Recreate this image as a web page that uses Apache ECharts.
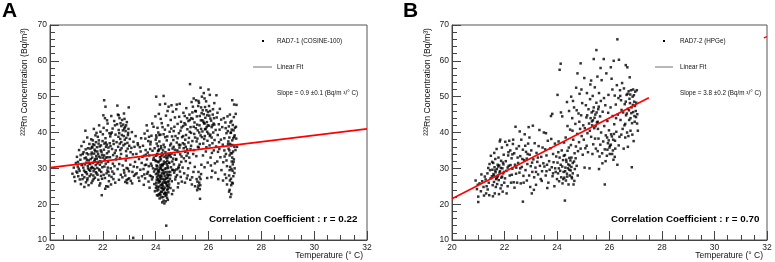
<!DOCTYPE html>
<html><head><meta charset="utf-8">
<script src="https://cdn.jsdelivr.net/npm/echarts@6/dist/echarts.min.js"></script>
<style>html,body{margin:0;padding:0;background:#fff}#c{width:775px;height:262px}</style>
</head><body><div id="c"></div>
<script>
// Temperature ticks / ranges
const xTicks = [20, 22, 24, 26, 28, 30, 32];
const yTicks = [10, 20, 30, 40, 50, 60, 70];

// Panel A: RAD7-1 (COSINE-100) [temperature °C, radon Bq/m3]
const pointsA = [
[20.85,28.5],[20.9,30.2],[20.95,26.4],[20.98,31.5],[21.0,29.1],[20.92,27.6],
[21.02,33.2],[21.05,30.5],[21.07,27.8],[21.1,35.1],[21.12,29.3],[21.15,32.4],[21.17,25.6],[21.2,30.9],[21.22,28.1],[21.24,34.0],[21.06,31.8],[21.13,26.9],[21.19,36.2],[21.23,27.0],[21.09,29.9],[21.16,33.7],[21.21,31.0],[21.03,28.8],
[21.26,30.2],[21.28,37.4],[21.3,27.5],[21.31,32.8],[21.33,29.0],[21.35,35.3],[21.36,26.1],[21.38,31.6],[21.4,28.4],[21.41,38.6],[21.43,30.7],[21.45,33.9],[21.46,25.3],[21.48,29.6],[21.49,36.8],[21.27,34.5],[21.32,31.1],[21.37,28.9],[21.42,27.2],[21.47,32.2],[21.29,29.4],[21.34,40.5],[21.39,34.2],[21.44,30.0],[21.5,27.8],[21.3,24.8],[21.41,26.7],
[21.52,31.2],[21.53,35.5],[21.55,28.3],[21.56,38.1],[21.58,30.4],[21.6,33.0],[21.61,26.5],[21.63,36.7],[21.65,29.2],[21.66,41.0],[21.68,32.1],[21.7,27.4],[21.71,34.8],[21.73,30.9],[21.74,37.3],[21.54,32.6],[21.57,25.9],[21.59,36.0],[21.62,31.5],[21.64,28.0],[21.67,34.1],[21.69,29.8],[21.72,39.2],[21.75,33.4],[21.55,30.0],[21.6,35.8],[21.65,27.0],[21.7,31.9],[21.58,34.4],[21.68,36.5],
[21.76,28.6],[21.78,35.9],[21.8,31.4],[21.81,38.8],[21.83,26.8],[21.85,33.3],[21.86,29.7],[21.88,36.1],[21.9,32.0],[21.91,40.2],[21.93,27.9],[21.95,34.6],[21.96,22.5],[21.98,30.3],[21.99,37.6],[21.77,32.7],[21.79,30.1],[21.82,34.0],[21.84,36.9],[21.87,25.2],[21.89,31.0],[21.92,35.0],[21.94,29.0],[21.97,33.8],[22.0,39.5],[21.8,28.2],[21.85,37.8],[21.9,25.8],[21.95,31.7],[21.86,42.0],
[22.02,44.8],[22.05,49.0],[22.04,35.2],[22.06,30.5],[22.08,27.3],[22.1,47.2],[22.1,38.4],[22.12,33.0],[22.13,25.0],[22.15,36.6],[22.17,29.4],[22.18,42.5],[22.2,31.8],[22.22,34.7],[22.23,26.4],[22.25,39.8],[22.03,41.3],[22.07,32.4],[22.09,24.3],[22.11,37.2],[22.14,28.6],[22.16,43.4],[22.19,30.2],[22.21,35.8],[22.24,28.0],[22.05,33.6],[22.15,40.6],[22.2,24.9],[22.08,44.0],[22.12,36.0],
[22.27,33.1],[22.28,38.9],[22.3,30.0],[22.32,44.6],[22.33,27.6],[22.35,35.4],[22.37,41.1],[22.38,31.3],[22.4,37.7],[22.42,28.5],[22.43,43.2],[22.45,34.3],[22.47,26.0],[22.48,39.4],[22.5,32.5],[22.29,36.2],[22.31,25.5],[22.34,40.0],[22.36,29.1],[22.39,33.7],[22.41,36.8],[22.44,30.6],[22.46,42.0],[22.49,35.0],[22.3,39.6],[22.4,27.0],
[22.52,37.3],[22.55,47.5],[22.54,42.3],[22.56,29.8],[22.58,36.0],[22.6,40.7],[22.61,26.8],[22.63,44.0],[22.65,32.9],[22.66,38.2],[22.68,28.2],[22.7,41.8],[22.71,35.6],[22.73,43.5],[22.75,30.8],[22.53,33.3],[22.57,45.0],[22.59,38.8],[22.62,31.2],[22.64,36.9],[22.67,42.6],[22.69,34.0],[22.72,39.3],[22.74,27.5],[22.6,44.8],
[22.77,42.2],[22.78,36.4],[22.8,29.5],[22.82,43.8],[22.83,38.0],[22.85,26.2],[22.86,40.4],[22.88,34.8],[22.9,30.1],[22.91,42.9],[22.93,37.1],[22.95,27.0],[22.96,39.9],[22.98,47.0],[23.0,36.3],[22.79,39.0],[22.81,28.8],[22.84,41.5],[22.87,32.2],[22.89,38.5],[22.92,25.9],[22.94,35.5],[22.97,41.0],[22.99,29.2],[22.8,45.3],[22.9,33.5],
[23.02,38.2],[23.04,31.0],[23.06,26.5],[23.08,35.7],[23.1,40.1],[23.12,29.0],[23.14,33.9],[23.16,37.4],[23.18,27.9],[23.2,36.0],[23.22,31.8],[23.24,39.0],[23.05,34.5],[23.11,25.8],[23.17,30.5],[23.23,28.3],[23.15,10.6],
[23.27,34.0],[23.3,30.3],[23.32,37.0],[23.35,27.4],[23.37,32.6],[23.4,35.9],[23.42,29.6],[23.45,38.4],[23.47,31.5],[23.5,33.2],[23.28,28.6],[23.33,36.5],[23.38,26.5],[23.43,34.7],[23.48,27.8],
[23.52,36.3],[23.54,29.8],[23.56,33.5],[23.58,39.7],[23.6,27.2],[23.62,35.1],[23.64,31.0],[23.66,42.0],[23.68,28.5],[23.7,34.4],[23.72,37.6],[23.74,30.6],[23.55,25.4],[23.61,38.3],[23.67,32.5],[23.73,26.3],[23.59,30.9],[23.69,40.5],
[23.76,33.6],[23.78,28.0],[23.8,36.7],[23.82,31.3],[23.84,39.1],[23.86,26.9],[23.88,34.9],[23.9,30.0],[23.92,41.6],[23.94,29.1],[23.96,35.6],[23.98,32.3],[24.0,38.0],[23.77,24.6],[23.81,37.4],[23.85,30.7],[23.89,27.5],[23.93,33.0],[23.97,23.6],[23.99,44.5],[23.87,42.5],[23.95,25.6],
[24.01,28.4],[24.02,50.0],[24.02,33.5],[24.03,25.2],[24.04,36.9],[24.05,22.5],[24.06,30.6],[24.07,41.3],[24.08,27.0],[24.09,34.8],[24.1,24.1],[24.11,31.7],[24.12,45.2],[24.13,28.9],[24.14,37.5],[24.15,21.6],[24.16,33.1],[24.17,26.3],[24.18,39.4],[24.19,29.8],[24.2,23.5],[24.21,35.6],[24.22,27.7],[24.23,42.6],[24.24,31.0],[24.25,20.5],[24.01,32.0],[24.03,38.6],[24.05,27.6],[24.07,24.7],[24.09,29.3],[24.11,26.0],[24.13,35.3],[24.15,30.2],[24.17,23.0],[24.19,43.8],[24.21,28.0],[24.23,25.5],[24.04,29.9],[24.08,31.9],[24.12,22.8],[24.16,27.4],[24.2,32.6],[24.24,24.4],[24.06,34.0],[24.14,26.6],[24.18,30.9],[24.22,21.9],[24.1,40.0],[24.2,36.2],[24.02,26.0],[24.12,29.5],[24.22,33.4],[24.06,23.8],[24.16,47.8],[24.24,28.6],
[24.26,25.7],[24.27,33.9],[24.28,22.0],[24.29,29.4],[24.3,50.2],[24.3,36.6],[24.31,24.2],[24.32,31.3],[24.33,20.2],[24.34,27.8],[24.35,40.8],[24.36,23.2],[24.37,34.5],[24.38,26.1],[24.39,44.7],[24.4,14.0],[24.4,30.0],[24.41,22.6],[24.42,37.8],[24.43,28.3],[24.44,25.0],[24.45,33.0],[24.46,21.2],[24.47,42.0],[24.48,29.0],[24.49,24.8],[24.5,35.2],[24.27,27.0],[24.29,23.9],[24.31,31.9],[24.33,26.7],[24.35,29.9],[24.37,22.3],[24.39,33.6],[24.41,27.3],[24.43,24.0],[24.45,30.6],[24.47,26.2],[24.49,47.2],[24.28,35.0],[24.32,28.5],[24.36,38.7],[24.4,25.8],[24.44,32.1],[24.48,23.3],[24.26,30.8],[24.34,24.6],[24.42,31.2],[24.46,27.9],[24.5,28.2],[24.38,20.8],[24.3,21.0],[24.45,46.0],[24.36,48.0],
[24.52,31.6],[24.53,40.2],[24.54,27.1],[24.55,36.4],[24.56,24.5],[24.57,43.5],[24.58,30.3],[24.6,34.1],[24.61,26.4],[24.62,38.9],[24.63,29.6],[24.65,45.8],[24.66,32.7],[24.67,23.8],[24.68,36.0],[24.7,28.8],[24.71,41.6],[24.72,33.8],[24.74,26.9],[24.75,39.0],[24.51,25.5],[24.55,29.0],[24.59,41.1],[24.64,35.5],[24.69,31.1],[24.73,44.2],[24.57,33.2],[24.62,22.8],[24.67,37.9],[24.72,29.4],[24.6,47.6],
[24.77,32.4],[24.78,46.5],[24.8,37.2],[24.81,28.1],[24.83,42.4],[24.85,34.6],[24.86,25.8],[24.88,39.8],[24.9,31.0],[24.91,48.0],[24.93,36.5],[24.95,27.6],[24.96,43.0],[24.98,33.3],[25.0,38.7],[24.79,29.7],[24.82,35.0],[24.84,24.7],[24.87,30.4],[24.89,44.4],[24.92,29.1],[24.94,40.5],[24.97,31.8],[24.99,26.3],[24.8,47.8],[24.9,35.8],
[25.02,30.2],[25.04,41.8],[25.06,35.6],[25.08,28.6],[25.1,44.6],[25.12,38.0],[25.14,32.0],[25.16,46.8],[25.18,27.2],[25.2,40.9],[25.22,34.2],[25.24,43.2],[25.03,37.0],[25.07,32.8],[25.11,26.0],[25.15,39.3],[25.19,35.3],[25.23,30.0],[25.05,45.5],[25.13,42.2],[25.21,28.0],[25.09,36.7],[25.17,33.5],
[25.26,38.5],[25.28,45.0],[25.3,53.5],[25.3,31.5],[25.32,41.5],[25.34,36.3],[25.36,48.5],[25.38,27.5],[25.4,43.8],[25.42,34.0],[25.44,49.5],[25.46,39.6],[25.48,30.4],[25.5,46.0],[25.27,33.0],[25.31,26.8],[25.35,44.0],[25.39,37.6],[25.43,29.0],[25.47,42.8],[25.29,40.2],[25.37,25.5],[25.45,35.1],[25.49,25.0],[25.41,47.2],
[25.52,41.2],[25.53,49.0],[25.55,27.0],[25.56,44.5],[25.58,38.3],[25.6,24.6],[25.61,47.4],[25.63,35.8],[25.65,26.0],[25.66,42.0],[25.68,21.5],[25.7,52.5],[25.7,39.2],[25.72,28.4],[25.74,45.4],[25.54,33.4],[25.57,23.9],[25.59,40.6],[25.62,29.0],[25.64,48.3],[25.67,36.8],[25.69,25.3],[25.71,43.4],[25.73,31.0],[25.75,50.0],[25.6,36.0],[25.66,27.6],[25.72,41.0],
[25.77,40.3],[25.78,46.2],[25.8,36.9],[25.82,51.0],[25.83,42.6],[25.85,30.3],[25.86,39.0],[25.88,44.1],[25.9,34.7],[25.91,48.7],[25.93,41.5],[25.95,27.3],[25.96,37.7],[25.98,45.7],[26.0,52.0],[25.79,33.6],[25.81,43.0],[25.84,38.2],[25.87,47.1],[25.89,41.0],[25.92,35.9],[25.94,42.9],[25.97,31.6],[25.99,39.7],[25.85,49.5],[25.95,44.8],
[26.02,41.9],[26.04,36.4],[26.06,46.0],[26.08,33.0],[26.1,43.3],[26.12,38.6],[26.14,29.3],[26.16,45.0],[26.18,40.0],[26.2,35.0],[26.22,48.2],[26.24,31.4],[26.03,44.7],[26.07,39.4],[26.11,27.5],[26.15,37.0],[26.19,42.5],[26.23,37.9],[26.05,50.5],[26.13,34.3],[26.21,44.0],[26.09,30.8],
[26.27,40.7],[26.29,36.1],[26.31,44.2],[26.33,31.9],[26.35,39.3],[26.37,27.0],[26.39,42.3],[26.41,35.4],[26.43,46.6],[26.45,33.1],[26.47,38.0],[26.49,29.5],[26.3,50.4],[26.36,34.6],[26.42,40.8],[26.48,43.6],[26.26,28.8],[26.4,37.3],[26.34,45.5],
[26.52,41.5],[26.54,36.6],[26.56,31.7],[26.58,44.0],[26.6,38.4],[26.62,28.3],[26.64,42.8],[26.66,34.0],[26.68,39.8],[26.7,30.6],[26.72,44.5],[26.74,36.8],[26.55,26.6],[26.61,33.3],[26.67,27.3],[26.73,40.4],[26.7,25.5],[26.65,41.2],
[26.76,35.5],[26.77,41.7],[26.78,28.0],[26.79,38.6],[26.8,24.0],[26.8,33.6],[26.81,45.0],[26.82,30.4],[26.83,22.0],[26.84,39.9],[26.85,27.1],[26.86,36.4],[26.87,43.2],[26.88,31.9],[26.89,26.0],[26.9,49.0],[26.9,37.8],[26.91,29.3],[26.92,42.1],[26.93,34.7],[26.94,27.8],[26.95,40.6],[26.96,32.5],[26.97,47.8],[26.98,36.0],[26.99,30.0],[27.0,41.3],[26.78,23.5],[26.82,36.8],[26.86,25.3],[26.9,33.0],[26.94,38.4],[26.98,28.7],[26.84,34.2],[26.88,40.8],[26.92,25.8],[26.96,44.3],[26.8,29.5],[26.86,22.8],[26.92,31.1],
[27.02,35.1],[27.04,41.6],[27.05,38.3],[27.08,36.0],[27.03,45.2],[27.06,47.7]
];
// Panel A: additional points in the densest clusters
const pointsAExtra = [
[21.36,33.0],[21.44,35.6],[21.52,29.3],[21.57,33.9],[21.63,30.1],[21.69,35.2],[21.74,28.9],[21.79,34.7],[21.83,31.8],[21.88,29.4],[21.93,36.4],[21.97,27.1],[22.01,33.0],[22.06,36.9],[22.11,31.3],[22.16,34.2],[22.21,29.0],[22.26,37.0],[21.49,31.4],[21.62,37.8],[21.76,39.9],[21.91,33.0],[22.03,28.2],[22.18,33.1],[21.4,32.4],[21.71,32.6],
[22.62,39.8],[22.7,37.3],[22.76,40.6],[22.84,36.8],[22.88,42.0],[22.95,39.3],[22.66,35.1],[22.81,41.1],
[22.85,28.0],[22.95,29.9],[23.0,27.2],[22.9,26.7],
[23.63,33.8],[23.71,29.0],[23.79,35.4],[23.83,27.8],[23.91,32.4],[23.98,29.7],[23.57,28.3],[23.75,38.8],
[24.01,24.5],[24.03,30.8],[24.05,33.9],[24.07,28.7],[24.09,22.4],[24.11,35.0],[24.13,24.9],[24.15,27.9],[24.17,32.2],[24.19,25.3],[24.21,30.3],[24.23,23.4],[24.25,29.5],[24.27,31.1],[24.29,26.1],[24.31,28.8],[24.33,33.2],[24.35,23.0],[24.37,27.0],[24.39,29.0],[24.41,32.8],[24.43,21.8],[24.45,27.3],[24.47,30.1],[24.49,26.4],[24.08,36.2],[24.18,22.5],[24.28,25.0],[24.38,31.7],[24.48,33.6],[24.14,39.3],[24.26,41.5],[24.34,35.9],[24.44,38.9],[24.04,26.8],[24.24,34.2],[24.32,22.9],[24.42,25.3],[24.12,26.5],[24.22,24.6],[24.36,26.0],[24.46,24.2],[24.02,39.2],[24.3,39.5],[24.5,31.5],[24.1,28.1],[24.2,27.1],[24.4,23.1],
[24.53,33.7],[24.58,36.9],[24.63,31.9],[24.68,40.4],[24.73,35.2],[24.78,32.6],[24.83,38.4],[24.88,36.6],[24.93,33.9],[24.98,41.4],[24.56,28.1],[24.66,29.5],[24.76,27.6],[24.86,30.0],
[25.04,39.0],[25.09,42.6],[25.14,36.0],[25.19,44.0],[25.24,37.2],[25.29,43.5],[25.34,39.9],[25.39,45.6],[25.44,41.6],[25.49,38.6],[25.12,34.6],[25.32,35.4],
[25.52,45.9],[25.57,42.2],[25.62,48.8],[25.67,44.6],[25.72,47.0],[25.77,43.4],[25.82,45.1],[25.87,40.9],[25.92,46.2],[25.97,42.0],[26.02,47.4],[26.07,43.9],[26.12,41.5],[26.17,46.5],[26.22,42.2],[25.55,37.5],[25.65,40.0],[25.75,38.7],[25.85,42.5],[25.95,40.2],[26.05,39.0],[26.15,42.0],[25.62,25.2],[25.67,24.2],[25.58,26.3],[25.7,27.0],
[26.79,35.0],[26.83,42.8],[26.87,29.8],[26.91,36.5],[26.95,31.8],[26.99,39.2],[26.81,26.6],[26.89,34.2],[26.97,38.8],[26.85,40.0],[26.6,35.0],[26.68,32.2],[26.75,37.5]
];

// Panel B: RAD7-2 (HPGe) [temperature °C, radon Bq/m3]
const pointsB = [
[20.9,26.6],[20.95,24.2],[21.0,22.1],[21.0,20.6],[20.98,25.4],
[21.05,25.8],[21.1,23.6],[21.15,26.4],[21.2,24.8],[21.22,22.4],[21.25,27.7],[21.3,23.0],[21.32,25.0],[21.35,28.6],[21.38,30.1],[21.4,26.0],[21.42,22.5],[21.45,29.5],[21.47,27.2],[21.48,33.5],[21.12,28.3],[21.28,26.9],[21.36,24.1],[21.43,31.2],
[21.52,27.8],[21.54,29.6],[21.55,25.3],[21.57,31.5],[21.58,28.4],[21.6,26.2],[21.62,30.3],[21.63,23.0],[21.65,32.6],[21.66,28.9],[21.68,27.0],[21.7,35.4],[21.71,29.8],[21.72,25.6],[21.74,31.0],[21.75,28.0],[21.77,33.0],[21.78,26.7],[21.8,30.8],[21.82,37.5],[21.83,29.2],[21.85,24.4],[21.87,32.1],[21.88,27.4],[21.9,35.8],[21.92,30.0],[21.93,23.5],[21.95,28.6],[21.97,33.8],[21.99,26.0],[21.56,22.2],[21.61,34.3],[21.67,24.8],[21.73,27.6],[21.79,22.8],[21.84,38.0],[21.89,25.3],[21.94,31.6],[21.98,29.0],[21.53,31.8],
[22.02,27.2],[22.05,32.0],[22.07,29.3],[22.1,36.5],[22.12,25.0],[22.14,33.6],[22.16,30.7],[22.18,37.7],[22.2,28.0],[22.22,35.0],[22.25,26.0],[22.27,32.8],[22.3,29.9],[22.32,36.8],[22.35,26.1],[22.37,34.2],[22.4,31.0],[22.42,41.6],[22.44,28.5],[22.46,35.5],[22.48,26.0],[22.5,33.0],[22.08,23.0],[22.15,34.5],[22.23,30.9],[22.33,38.0],[22.38,24.6],[22.45,30.2],[22.03,37.4],[22.28,28.2],
[22.52,31.5],[22.55,36.2],[22.57,28.8],[22.6,33.4],[22.62,25.8],[22.64,38.0],[22.66,30.4],[22.7,20.7],[22.7,35.2],[22.72,27.9],[22.75,32.3],[22.77,39.5],[22.8,29.5],[22.82,34.6],[22.85,26.6],[22.87,31.2],[22.9,36.9],[22.92,41.5],[22.94,28.0],[22.96,33.8],[22.98,24.8],[23.0,30.6],[22.58,40.3],[22.68,32.6],[22.79,36.3],[22.88,34.0],[22.95,38.6],[22.73,26.0],
[23.02,35.0],[23.04,23.0],[23.06,29.0],[23.08,41.9],[23.1,32.5],[23.13,27.5],[23.15,37.0],[23.18,30.2],[23.2,25.4],[23.22,34.3],[23.25,31.8],[23.28,28.3],[23.3,36.2],[23.33,40.7],[23.35,30.7],[23.38,27.0],[23.4,33.2],[23.43,29.2],[23.45,35.8],[23.48,31.4],[23.5,40.0],[23.12,24.0],[23.27,33.0],[23.42,26.5],
[23.52,30.5],[23.55,35.3],[23.57,28.0],[23.6,33.6],[23.62,31.0],[23.65,37.7],[23.67,26.0],[23.7,32.0],[23.72,29.6],[23.75,35.6],[23.77,44.6],[23.8,30.3],[23.82,45.2],[23.83,27.8],[23.85,34.0],[23.87,31.7],[23.9,25.0],[23.92,36.9],[23.95,29.0],[23.97,33.3],[24.0,27.0],[23.63,24.5],[23.78,38.2],[23.93,30.0],[23.58,39.8],
[24.02,50.5],[24.02,31.6],[24.04,28.6],[24.05,34.5],[24.07,30.0],[24.08,26.4],[24.1,57.5],[24.1,33.0],[24.12,29.3],[24.14,59.2],[24.14,31.0],[24.16,27.5],[24.18,35.0],[24.2,30.5],[24.21,25.8],[24.23,32.3],[24.25,29.0],[24.27,37.2],[24.28,27.4],[24.3,21.0],[24.3,33.7],[24.32,30.2],[24.34,26.6],[24.36,31.8],[24.38,28.5],[24.4,34.9],[24.42,30.0],[24.44,25.5],[24.46,46.0],[24.47,32.9],[24.49,28.0],[24.5,40.8],[24.06,37.5],[24.2,44.5],[24.33,38.6],[24.45,35.8],[24.24,27.0],[24.38,48.5],[24.15,45.6],[24.4,41.8],[24.48,30.8],[24.26,33.5],
[24.52,29.4],[24.54,50.0],[24.55,33.0],[24.57,27.2],[24.58,44.0],[24.6,31.5],[24.62,38.0],[24.63,25.5],[24.65,47.0],[24.67,34.2],[24.68,29.8],[24.7,42.4],[24.72,36.1],[24.73,52.5],[24.75,30.7],[24.77,39.6],[24.78,56.5],[24.8,34.8],[24.82,45.3],[24.84,37.3],[24.86,50.8],[24.88,41.0],[24.9,59.3],[24.9,35.5],[24.92,44.8],[24.94,39.0],[24.96,48.2],[24.98,33.8],[25.0,42.0],[24.59,40.5],[24.66,26.5],[24.71,32.8],[24.79,28.0],[24.85,43.0],[24.93,52.0],[24.53,36.5],[24.61,48.8],[24.75,46.2],
[25.02,38.0],[25.04,55.2],[25.06,41.2],[25.08,35.6],[25.1,47.6],[25.12,44.2],[25.14,51.0],[25.16,39.8],[25.18,34.5],[25.2,46.5],[25.22,42.5],[25.24,30.0],[25.26,49.3],[25.28,44.0],[25.3,54.5],[25.3,38.8],[25.32,45.6],[25.34,42.0],[25.36,50.2],[25.38,36.7],[25.4,60.5],[25.4,47.0],[25.42,41.2],[25.44,52.6],[25.46,45.0],[25.48,35.5],[25.5,63.0],[25.5,48.3],[25.05,30.2],[25.15,44.8],[25.25,40.5],[25.35,34.0],[25.45,38.3],[25.27,53.4],[25.13,36.3],[25.37,43.4],
[25.52,42.8],[25.54,55.6],[25.55,34.8],[25.57,46.5],[25.58,38.3],[25.6,51.0],[25.62,33.3],[25.64,44.5],[25.65,36.6],[25.67,48.8],[25.68,40.0],[25.7,54.6],[25.72,34.2],[25.74,45.8],[25.76,37.5],[25.78,60.5],[25.8,41.8],[25.82,25.5],[25.82,35.3],[25.84,47.6],[25.86,39.2],[25.88,56.5],[25.9,33.5],[25.92,43.2],[25.94,37.0],[25.96,50.5],[25.98,40.6],[26.0,35.8],[25.6,29.8],[25.73,31.4],[25.85,32.0],[25.95,45.5],[25.66,58.0],[25.79,49.6],[25.56,41.0],[25.91,38.6],
[26.02,36.3],[26.04,47.0],[26.06,39.5],[26.08,55.0],[26.1,34.0],[26.12,44.6],[26.14,38.0],[26.16,60.0],[26.18,42.3],[26.2,50.3],[26.22,35.5],[26.24,47.8],[26.26,40.2],[26.28,53.2],[26.3,66.0],[26.3,31.0],[26.32,45.0],[26.34,49.6],[26.36,60.3],[26.38,38.8],[26.4,51.8],[26.42,43.5],[26.44,49.0],[26.46,46.3],[26.48,53.8],[26.5,41.0],[26.05,58.2],[26.15,32.4],[26.25,44.0],[26.35,36.4],[26.45,39.4],[26.11,52.0],[26.21,37.7],[26.41,50.2],
[26.52,45.6],[26.54,35.5],[26.55,52.3],[26.57,42.0],[26.58,47.9],[26.6,38.6],[26.62,58.8],[26.63,44.8],[26.65,50.5],[26.67,40.0],[26.68,58.2],[26.7,46.6],[26.72,39.0],[26.73,51.5],[26.75,43.5],[26.77,55.4],[26.78,48.2],[26.8,44.0],[26.82,51.8],[26.84,47.0],[26.85,30.3],[26.86,42.6],[26.88,50.0],[26.9,45.7],[26.92,37.6],[26.94,48.6],[26.96,43.0],[26.98,51.4],[27.0,46.0],[26.6,42.4],[26.7,36.0],[26.8,40.5],[26.9,52.0],[26.66,45.3],[26.76,49.4],[26.87,39.4],[26.95,44.6],
[27.02,48.3],[27.05,42.5],[27.08,40.5],[27.04,51.8],[27.06,45.1]
];
// Panel B: additional points in the densest clusters
const pointsBExtra = [
[21.6,28.0],[21.65,29.4],[21.7,27.3],[21.76,30.5],[21.81,28.8],[21.86,30.1],[21.91,27.7],[21.96,31.1],
[24.31,29.2],[24.35,32.4],[24.39,27.7],[24.43,31.1],[24.47,29.6],[24.51,32.2],[24.55,30.4],[24.6,28.6],[24.65,31.9],[24.56,27.6],
[25.33,43.1],[25.38,46.0],[25.43,44.1],[25.47,41.8],[25.51,45.6],[25.55,43.0],[25.59,47.2],
[25.92,35.2],[25.97,37.8],[26.01,34.0],[26.05,36.6],[26.09,38.9],[26.13,35.0],[26.17,39.6],[26.2,33.2],
[26.62,48.6],[26.69,50.8],[26.74,46.2],[26.79,50.6],[26.83,45.4],[26.89,47.7],[26.93,50.4],[26.97,47.4],[27.01,44.3],
[22.6,30.0],[22.85,32.7],[23.05,31.6],[23.2,29.0],[23.6,29.2],[23.85,28.6],[22.3,33.9],[22.12,30.2]
];

// Linear fits (endpoints of drawn fit lines)
const fitA = [[20, 30.2], [32, 41.0]];
const fitB = [[20, 21.5], [27.5, 49.7]];
const strayB = [[31.88, 66.4], [32.0, 66.75]];

// Texts
const panelLabels = ['A', 'B'];
const legendNames = ['RAD7-1 (COSINE-100)', 'RAD7-2 (HPGe)'];
const fitName = 'Linear Fit';
const slopeTexts = ['Slope = 0.9 ±0.1 (Bq/m \u00B3/° C)', 'Slope = 3.8 ±0.2 (Bq/m \u00B3/° C)'];
const corrTexts = ['Correlation Coefficient : r = 0.22', 'Correlation Coefficient : r = 0.70'];
const xName = 'Temperature (° C)';
const yName = '\u00B2\u00B2\u00B2Rn Concentration (Bq/m\u00B3)';

const FF = '"Liberation Sans", Arial, Helvetica, sans-serif';
const chart = echarts.init(document.getElementById('c'), null, {renderer: 'canvas'});

const grids = [
  {left: 50, top: 25, width: 317, height: 215},
  {left: 452, top: 25, width: 315, height: 215}
];

function xAx(i) {
  return {
    type: 'value', gridIndex: i, min: xTicks[0], max: xTicks[xTicks.length - 1], interval: 2,
    axisLine: {show: true, onZero: false, lineStyle: {color: '#444', width: 1}},
    axisTick: {show: true, inside: true, length: 9, lineStyle: {color: '#444'}},
    minorTick: {show: true, splitNumber: 4, length: 5, lineStyle: {color: '#444'}},
    axisLabel: {color: '#222', fontSize: 8.5, fontFamily: FF, margin: 3},
    splitLine: {show: false}
  };
}
function yAx(i) {
  return {
    type: 'value', gridIndex: i, min: yTicks[0], max: yTicks[yTicks.length - 1], interval: 10,
    axisLine: {show: true, onZero: false, lineStyle: {color: '#444', width: 1}},
    axisTick: {show: true, inside: true, length: 9, lineStyle: {color: '#444'}},
    minorTick: {show: true, splitNumber: 5, length: 5, lineStyle: {color: '#444'}},
    axisLabel: {color: '#222', fontSize: 8.5, fontFamily: FF, margin: 3},
    splitLine: {show: false}
  };
}

function txt(x, y, text, size, opts) {
  opts = opts || {};
  return {
    type: 'text', x: x, y: y, rotation: opts.rotation || 0, silent: true, z: 100,
    style: {
      text: text, x: 0, y: 0,
      fontSize: size, fontFamily: FF, fontWeight: opts.bold ? 'bold' : 'normal',
      fill: opts.color || '#111',
      align: opts.align || 'left', textAlign: opts.align || 'left',
      verticalAlign: 'middle', textVerticalAlign: 'middle'
    }
  };
}

const legendX = [277, 680];
const dotX = [263, 664];
const lineX = [[253, 272], [655, 673]];
const corrX = [209, 611];
const yNameX = [25, 428];
const panelX = [2, 403];
const xNameRight = [363, 763];

const graphics = [];
for (let i = 0; i < 2; i++) {
  graphics.push(txt(panelX[i], 11, panelLabels[i], 21, {bold: true, color: '#000'}));
  graphics.push({type: 'rect', silent: true, z: 100, shape: {x: dotX[i] - 1, y: 40, width: 2, height: 2}, style: {fill: '#000'}});
  graphics.push(txt(legendX[i], 41.5, legendNames[i], 6.3));
  graphics.push({type: 'line', silent: true, z: 100, shape: {x1: lineX[i][0], y1: 67, x2: lineX[i][1], y2: 67}, style: {stroke: '#888', lineWidth: 1.2}});
  graphics.push(txt(legendX[i], 67.5, fitName, 6.3));
  graphics.push(txt(legendX[i], 93.5, slopeTexts[i], 6.3));
  graphics.push(txt(corrX[i], 219.5, corrTexts[i], 9.8, {bold: true, color: '#000'}));
  graphics.push(txt(xNameRight[i], 256, xName, 8.5, {align: 'right'}));
  graphics.push(txt(yNameX[i], 28, yName, 8.7, {align: 'right', rotation: Math.PI / 2}));
}

const option = {
  animation: false,
  backgroundColor: '#fff',
  grid: grids.map(g => Object.assign({show: true, borderColor: '#555', borderWidth: 1, backgroundColor: 'transparent', containLabel: false}, g)),
  xAxis: [xAx(0), xAx(1)],
  yAxis: [yAx(0), yAx(1)],
  series: [
    {type: 'scatter', xAxisIndex: 0, yAxisIndex: 0, data: pointsA.concat(pointsAExtra), symbol: 'rect', symbolSize: 2.5, itemStyle: {color: '#000'}, silent: true},
    {type: 'scatter', xAxisIndex: 1, yAxisIndex: 1, data: pointsB.concat(pointsBExtra), symbol: 'rect', symbolSize: 2.5, itemStyle: {color: '#000'}, silent: true},
    {type: 'line', xAxisIndex: 0, yAxisIndex: 0, data: fitA, symbol: 'none', lineStyle: {color: '#f00', width: 1.6}, z: 5, silent: true},
    {type: 'line', xAxisIndex: 1, yAxisIndex: 1, data: fitB, symbol: 'none', lineStyle: {color: '#f00', width: 1.6}, z: 5, silent: true},
    {type: 'line', xAxisIndex: 1, yAxisIndex: 1, data: strayB, symbol: 'none', lineStyle: {color: '#f00', width: 1.4}, z: 5, silent: true}
  ],
  graphic: graphics
};
chart.setOption(option);
</script>
</body></html>
